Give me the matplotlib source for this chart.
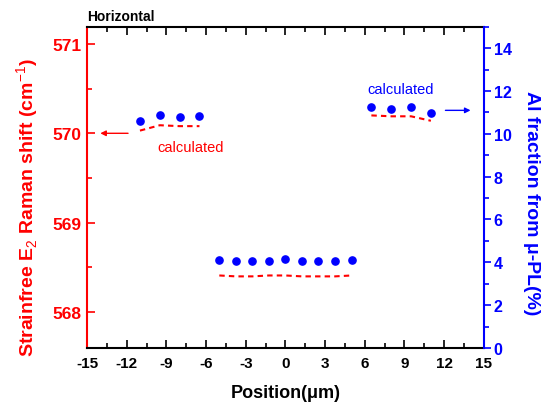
import matplotlib
matplotlib.use("Agg")
import matplotlib.pyplot as plt
from matplotlib.ticker import MultipleLocator

plt.rcParams['font.family'] = ['Liberation Sans', 'DejaVu Sans']
plt.rcParams['mathtext.fontset'] = 'custom'
plt.rcParams['mathtext.rm'] = 'Liberation Sans'
plt.rcParams['mathtext.bf'] = 'Liberation Sans:bold'
plt.rcParams['axes.unicode_minus'] = False

# ---- data ----
pos_left = [-11, -9.5, -8, -6.5]
al_left = [10.62, 10.87, 10.80, 10.82]
calc_left = [570.03, 570.09, 570.08, 570.08]

pos_mid = [-5, -3.75, -2.5, -1.25, 0, 1.25, 2.5, 3.75, 5]
al_mid = [4.11, 4.08, 4.08, 4.08, 4.14, 4.06, 4.06, 4.06, 4.10]
calc_mid = [568.41, 568.40, 568.40, 568.41, 568.41, 568.40, 568.40, 568.40, 568.41]

pos_right = [6.5, 8, 9.5, 11]
al_right = [11.24, 11.18, 11.24, 10.99]
calc_right = [570.20, 570.19, 570.19, 570.14]

xticks = [-15, -12, -9, -6, -3, 0, 3, 6, 9, 12, 15]
left_ticks = [568, 569, 570, 571]
right_ticks = [0, 2, 4, 6, 8, 10, 12, 14]

RED = '#FF0000'
BLUE = '#0000FF'

fig = plt.figure(figsize=(5.51, 4.10), dpi=100)
ax = fig.add_axes([0.158, 0.149, 0.720, 0.783])
ax2 = ax.twinx()

# red calculated dashed lines (left axis)
for xs, ys in [(pos_left, calc_left), (pos_mid, calc_mid), (pos_right, calc_right)]:
    ax.plot(xs, ys, color=RED, lw=1.5, dashes=(2.6, 2.0))

# blue measured dots (right axis)
for xs, ys in [(pos_left, al_left), (pos_mid, al_mid), (pos_right, al_right)]:
    ax2.plot(xs, ys, 'o', color=BLUE, ms=5.2, mec=BLUE)

ax.set_xlim(-15, 15)
ax.set_ylim(567.6, 571.19)
ax2.set_ylim(0, 15)

ax.set_xticks(xticks)
ax.set_xticklabels([str(t) for t in xticks], fontweight='bold', fontsize=11)
ax.xaxis.set_minor_locator(MultipleLocator(1.5))
ax.set_yticks(left_ticks)
ax.set_yticklabels([str(t) for t in left_ticks], fontweight='bold', fontsize=12.5, color=RED)
ax.yaxis.set_minor_locator(MultipleLocator(0.5))
ax2.set_yticks(right_ticks)
ax2.set_yticklabels([str(t) for t in right_ticks], fontweight='bold', fontsize=11.5, color=BLUE)
ax2.yaxis.set_minor_locator(MultipleLocator(1))

# spines
for s in ['left', 'right', 'top', 'bottom']:
    ax.spines[s].set_linewidth(1.5)
    ax2.spines[s].set_linewidth(1.5)
ax.spines['left'].set_color(RED)
ax.spines['right'].set_visible(False)
ax.spines['top'].set_color('black')
ax.spines['bottom'].set_color('black')
ax2.spines['left'].set_visible(False)
ax2.spines['top'].set_visible(False)
ax2.spines['bottom'].set_visible(False)
ax2.spines['right'].set_color(BLUE)

ax.tick_params(axis='x', which='both', direction='in', top=True, bottom=True,
               color='black', width=1.2, pad=6)
ax.tick_params(axis='x', which='major', length=6)
ax.tick_params(axis='x', which='minor', length=3.5)
ax.tick_params(axis='y', which='both', direction='in', left=True, right=False,
               color=RED, width=1.2, pad=4)
ax.tick_params(axis='y', which='major', length=6)
ax.tick_params(axis='y', which='minor', length=3.5)
ax2.tick_params(axis='y', which='both', direction='out', color=BLUE, width=1.2, pad=2)
ax2.tick_params(axis='y', which='major', length=5)
ax2.tick_params(axis='y', which='minor', length=3.5)

ax.set_xlabel('Position(μm)', fontweight='bold', fontsize=13)
ax.xaxis.set_label_coords(0.5, -0.112)
ax.set_ylabel('Strainfree E$_{\\mathrm{2}}$ Raman shift (cm$^{\\mathrm{-1}}$)',
              fontweight='bold', fontsize=14, color=RED)
ax.yaxis.set_label_coords(-0.117, 0.44)
ax2.set_ylabel('Al fraction from μ-PL(%)', fontweight='bold', fontsize=14,
               color=BLUE, rotation=-90, va='center')
ax2.yaxis.set_label_coords(1.121, 0.455)

# annotations
ax.annotate('', xy=(-14.0, 570.0), xytext=(-11.9, 570.0),
            arrowprops=dict(arrowstyle='-|>', color=RED, lw=1.0,
                            mutation_scale=8, shrinkA=0, shrinkB=0))
ax.text(-7.2, 569.85, 'calculated', color=RED, fontsize=10.5, ha='center', va='center')
ax2.annotate('', xy=(14.0, 11.1), xytext=(12.1, 11.1),
             arrowprops=dict(arrowstyle='-|>', color=BLUE, lw=1.0,
                             mutation_scale=8, shrinkA=0, shrinkB=0))
ax2.text(8.73, 12.09, 'calculated', color=BLUE, fontsize=10.5, ha='center', va='center')

ax.text(0.0, 1.012, 'Horizontal', transform=ax.transAxes, fontweight='bold',
        fontsize=10, ha='left', va='bottom', color='black')

fig.savefig('out.png', dpi=100)
